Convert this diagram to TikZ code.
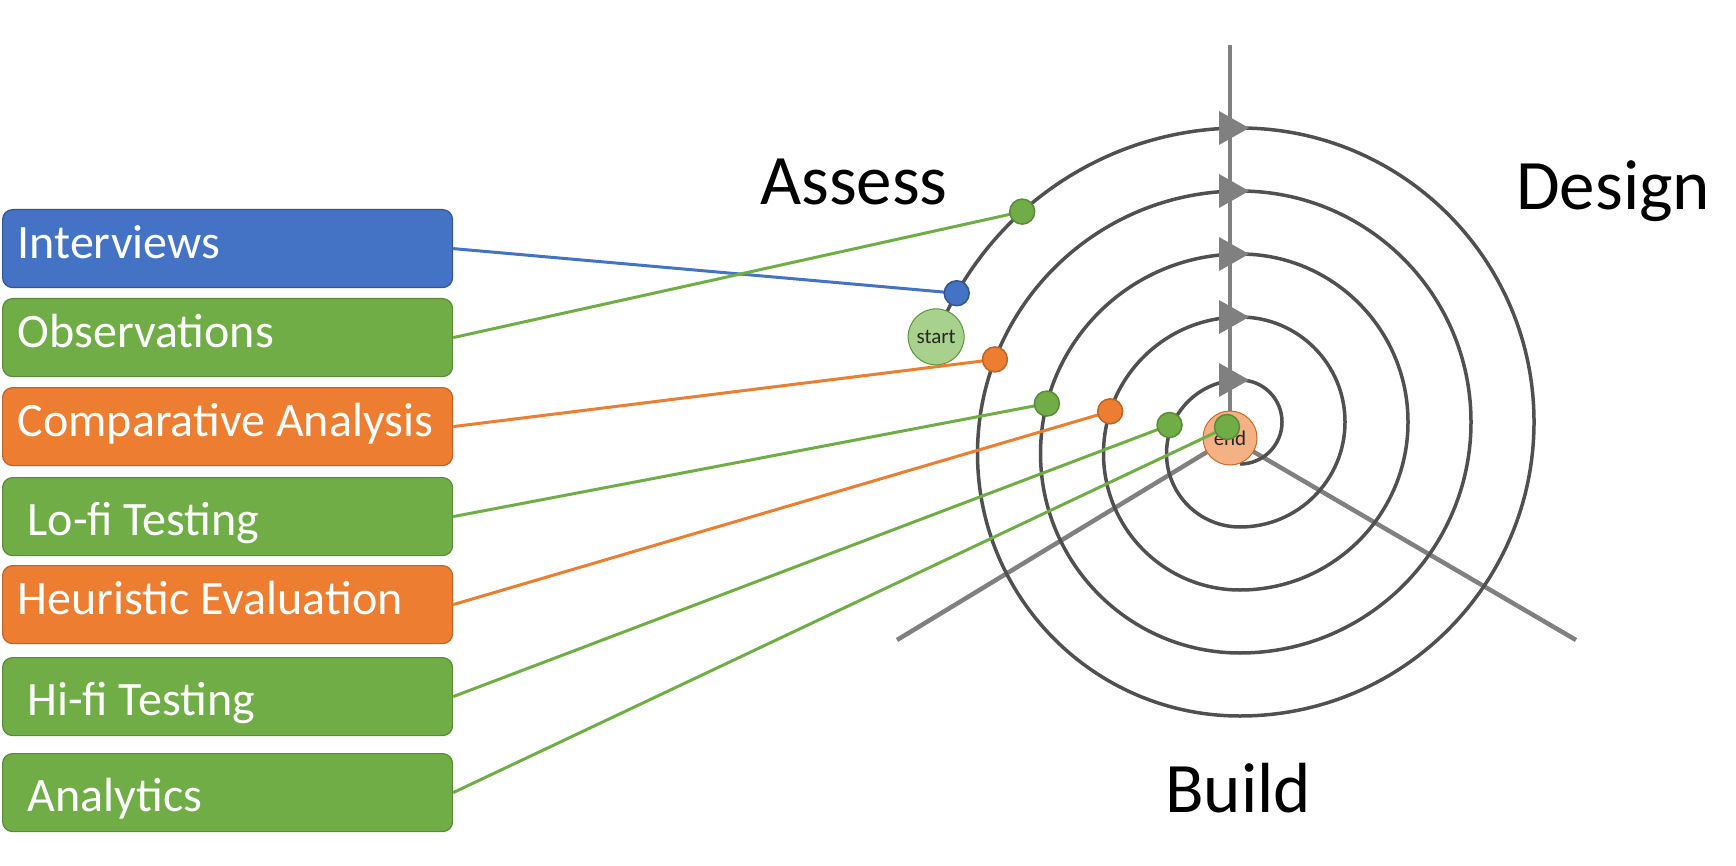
\documentclass[tikz,border=0pt]{standalone}
\usepackage{fontspec}
\setmainfont{Carlito}
\usepackage{tikz}
\usetikzlibrary{arrows.meta,positioning,calc}
\definecolor{uxblue}{RGB}{68,114,196}
\definecolor{uxgreen}{RGB}{112,173,71}
\definecolor{uxorange}{RGB}{237,125,49}
\definecolor{uxlightgreen}{RGB}{169,209,142}
\definecolor{uxpeach}{RGB}{244,177,131}
\definecolor{spiralgrey}{RGB}{80,80,80}
\definecolor{spokegrey}{RGB}{128,128,128}

\begin{document}
\begin{tikzpicture}[
    x=1pt, y=1pt,
    method/.style={rectangle, rounded corners=10pt, anchor=north west, minimum width=450pt, minimum height=78pt, text width=420pt, inner xsep=15pt, align=flush left, text=white, font=\fontsize{48}{54}\selectfont, text height=32pt, text depth=12pt, line width=1.2pt},
    indented/.style={inner xsep=25pt, text width=400pt, text height=41pt, text depth=3pt},
    bluebox/.style={method, fill=uxblue, draw=uxblue!75!black},
    greenbox/.style={method, fill=uxgreen, draw=uxgreen!80!black},
    orangebox/.style={method, fill=uxorange, draw=uxorange!80!black},
    link/.style={line width=3pt},
    dot/.style={circle, minimum size=25pt, inner sep=0pt, line width=1.5pt},
    marker/.style={circle, inner sep=0pt, line width=1pt, font=\fontsize{21}{24}\selectfont, text=black!85},
    phase/.style={font=\fontsize{71}{76}\selectfont, anchor=base west, inner sep=0pt},
    ring/.style={draw=spiralgrey, line width=3.5pt},
    spoke/.style={draw=spokegrey, line width=4.5pt}
]

% Frame
\useasboundingbox (0,0) rectangle (1736,-866);

% Spiral centres and axes
\coordinate (cone) at (1240,-422);
\coordinate (ctwo) at (1240,-453.5);
\coordinate (hub) at (1230,-438);
\coordinate (top) at (1230,-45);
\coordinate (leftfoot) at (897,-640);
\coordinate (rightfoot) at (1576,-640);
\draw[spoke] (top) -- (hub);
\draw[spoke] (hub) -- (leftfoot);
\draw[spoke] (hub) -- (rightfoot);

% Spiral
\draw[ring] ($(ctwo)+(159:325.5)$) arc[start angle=159, end angle=90, radius=325.5]
    arc[start angle=90, end angle=-90, radius=294]
    arc[start angle=-90, end angle=-270, radius=262.5]
    arc[start angle=90, end angle=-90, radius=231]
    arc[start angle=-90, end angle=-270, radius=199.5]
    arc[start angle=90, end angle=-90, radius=168]
    arc[start angle=-90, end angle=-270, radius=136.5]
    arc[start angle=90, end angle=-90, radius=105]
    arc[start angle=-90, end angle=-270, radius=73.5]
    arc[start angle=90, end angle=-90, radius=42];

% Direction marks
\fill[spokegrey] (1219,-111) -- (1249,-128) -- (1219,-145) -- cycle;
\fill[spokegrey] (1219,-174) -- (1249,-191) -- (1219,-208) -- cycle;
\fill[spokegrey] (1219,-237) -- (1249,-254) -- (1219,-271) -- cycle;
\fill[spokegrey] (1219,-300) -- (1249,-317) -- (1219,-334) -- cycle;
\fill[spokegrey] (1219,-363) -- (1249,-380) -- (1219,-397) -- cycle;

% Start and end
\node[marker, fill=uxlightgreen, draw=uxgreen!85!black, minimum size=56pt] (start) at ($(ctwo)+(159:325.5)$) {start};
\node[marker, fill=uxpeach, draw=uxorange!85!black, minimum size=54pt] (finish) at (hub) {end};

% Methods
\node[bluebox] (interviews) at (2,-209) {Interviews};
\node[greenbox] (observations) at (2,-298) {Observations};
\node[orangebox] (comparative) at (2,-387) {\mbox{Comparative Analysis}};
\node[greenbox, indented] (lofi) at (2,-477) {Lo-fi Testing};
\node[orangebox] (heuristic) at (2,-565) {Heuristic Evaluation};
\node[greenbox, indented] (hifi) at (2,-657) {Hi-fi Testing};
\node[greenbox, indented] (analytics) at (2,-753) {Analytics};

% Points on the spiral
\coordinate (pobs) at ($(ctwo)+(132:325.5)$);
\coordinate (pint) at ($(ctwo)+(150.5:325.5)$);
\coordinate (pcomp) at ($(ctwo)+(159:262.5)$);
\coordinate (plofi) at ($(ctwo)+(165.5:199.5)$);
\coordinate (pheur) at ($(ctwo)+(162:136.5)$);
\coordinate (phifi) at ($(ctwo)+(158:76)$);
\coordinate (pana) at (1227,-427);

% Links
\draw[link, uxblue] (interviews.east) -- (pint);
\draw[link, uxgreen] (observations.east) -- (pobs);
\draw[link, uxorange] (comparative.east) -- (pcomp);
\draw[link, uxgreen] (lofi.east) -- (plofi);
\draw[link, uxorange] (heuristic.east) -- (pheur);
\draw[link, uxgreen] (hifi.east) -- (phifi);
\draw[link, uxgreen] (analytics.east) -- (pana);

% Dots
\node[dot, fill=uxblue, draw=uxblue!75!black] (dint) at (pint) {};
\node[dot, fill=uxgreen, draw=uxgreen!80!black] (dobs) at (pobs) {};
\node[dot, fill=uxorange, draw=uxorange!80!black] (dcomp) at (pcomp) {};
\node[dot, fill=uxgreen, draw=uxgreen!80!black] (dlofi) at (plofi) {};
\node[dot, fill=uxorange, draw=uxorange!80!black] (dheur) at (pheur) {};
\node[dot, fill=uxgreen, draw=uxgreen!80!black] (dhifi) at (phifi) {};
\node[dot, fill=uxgreen, draw=uxgreen!80!black] (dana) at (pana) {};

% Phases
\node[phase] (assess) at (760,-205) {Assess};
\node[phase] (design) at (1516,-210) {Design};
\node[phase] (build) at (1165,-812) {Build};

\end{tikzpicture}
\end{document}
